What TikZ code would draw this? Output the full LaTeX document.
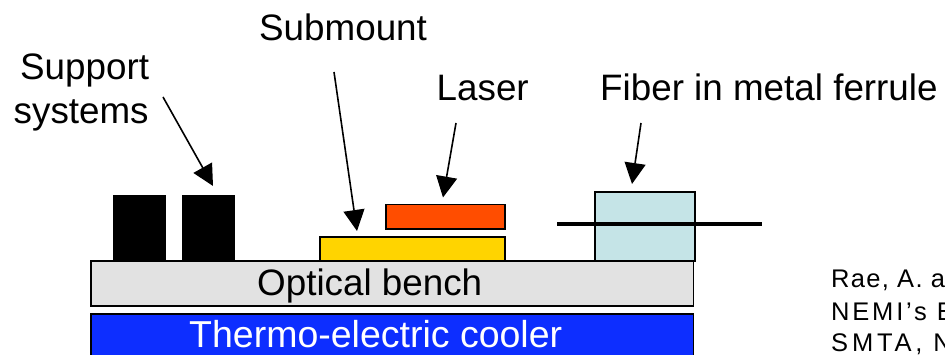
\documentclass[tikz,border=0pt]{standalone}
\usepackage{fontspec}
\setmainfont{Liberation Sans}
\usetikzlibrary{arrows.meta}
\newfontfamily\citefont[LetterSpace=5]{Liberation Sans}
\newfontfamily\citefontb[LetterSpace=11]{Liberation Sans}
\newfontfamily\citefontc[LetterSpace=15]{Liberation Sans}
\tikzset{
  x=1pt,y=-1pt,
  blockline/.style={draw=black,line width=1.6pt},
  label/.style={font=\fontsize{36.8}{40}\selectfont,inner sep=0pt,anchor=base west,text=black},
  lead/.style={draw=black,line width=1.6pt,-{Triangle[length=21pt,width=21pt]}},
  cite/.style={font=\citefont\fontsize{25.5}{28}\selectfont,inner sep=0pt,anchor=base west,text=black},
  citeb/.style={font=\citefontb\fontsize{25.5}{28}\selectfont,inner sep=0pt,anchor=base west,text=black},
  citec/.style={font=\citefontc\fontsize{25.5}{28}\selectfont,inner sep=0pt,anchor=base west,text=black}
}
\definecolor{bench}{RGB}{226,226,226}
\definecolor{tec}{RGB}{13,46,255}
\definecolor{laser}{RGB}{255,77,0}
\definecolor{sub}{RGB}{255,212,0}
\definecolor{ferrule}{RGB}{197,228,231}
\begin{document}
\begin{tikzpicture}
\useasboundingbox (0,0) rectangle (945,355);
\clip (0,0) rectangle (945,355);
\fill[white] (0,0) rectangle (945,355);
% blocks
\path[blockline,fill=tec] (91,314) rectangle (693.5,370);
\path[blockline,fill=bench] (91,261) rectangle (693.5,306);
\fill[black] (113,195) rectangle (166,261);
\fill[black] (182,195) rectangle (235,261);
\path[blockline,fill=sub] (320,237) rectangle (505,261);
\path[blockline,fill=laser] (386,204.5) rectangle (505,229);
\path[blockline,fill=ferrule] (595,192) rectangle (695,261);
\coordinate (fa) at (557,224);
\coordinate (fb) at (762,224);
\draw[line width=3.2pt] (fa) -- (fb);
% labels
\node[label] (lsup) at (20,79.5) {Support};
\node[label] (lsys) at (13.5,124) {systems};
\node[label] (lsub) at (259,41) {Submount};
\node[label] (llas) at (436.5,101) {Laser};
\node[label] (lfib) at (600,101) {Fiber in metal ferrule};
\node[label] (lben) at (257,295.5) {Optical bench};
\node[label,text=white,font=\fontsize{37.5}{40}\selectfont] (ltec) at (189,347) {Thermo-electric cooler};
\node[cite] (c1) at (831,288) {Rae, A. a};
\node[citeb] (c2) at (831,320) {NEMI’s E};
\node[citec] (c3) at (831,351) {SMTA, N};
% leaders
\coordinate (s1) at (163,97); \coordinate (s2) at (213,186);
\coordinate (m1) at (334,72); \coordinate (m2) at (357,231);
\coordinate (l1) at (456,123); \coordinate (l2) at (443,197.5);
\coordinate (f1) at (641,123); \coordinate (f2) at (632,184);
\draw[lead] (s1) -- (s2);
\draw[lead] (m1) -- (m2);
\draw[lead] (l1) -- (l2);
\draw[lead] (f1) -- (f2);
\end{tikzpicture}
\end{document}
